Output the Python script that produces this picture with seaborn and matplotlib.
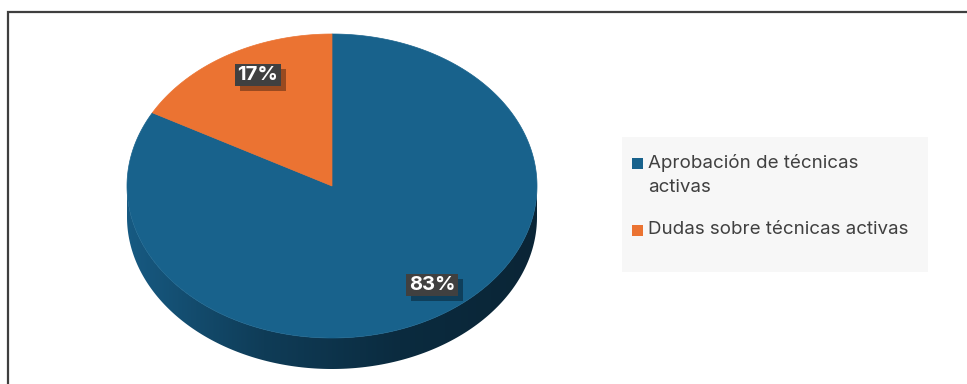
import numpy as np
import matplotlib
matplotlib.use("Agg")
import matplotlib.pyplot as plt
from matplotlib.patches import Polygon, Rectangle
from matplotlib.colors import LinearSegmentedColormap
import seaborn as sns

# Survey shares (percent)
categories = ["Aprobación de técnicas activas", "Dudas sobre técnicas activas"]
legend_labels = ["Aprobación de técnicas\nactivas", "Dudas sobre técnicas activas"]
values = [83, 17]
value_labels = ["83%", "17%"]

sns.set_theme(style="white")
plt.rcParams["font.family"] = ["Inter", "DejaVu Sans"]

top_colors = ["#18628c", "#eb7332"]
text_color = "#404040"

W, H = 967, 384
fig = plt.figure(figsize=(W / 100, H / 100), dpi=100)
ax = fig.add_axes([0, 0, 1, 1])
ax.set_xlim(0, W)
ax.set_ylim(H, 0)
ax.axis("off")

# outer frame (left and top edges visible)
ax.plot([8, 8, W + 5], [H + 5, 12, 12], color="#3f3f3f", lw=1.6,
        solid_joinstyle="miter")

# pie geometry in pixel units
cx, cy, rx, ry, depth = 332, 186, 205, 152, 31


def rim(theta_deg, dy=0.0):
    t = np.radians(theta_deg)
    return np.column_stack([cx + rx * np.cos(t), cy - ry * np.sin(t) + dy])


# side wall along the front half of the disk
front = np.linspace(180, 360, 200)
side_pts = np.vstack([rim(front), rim(front[::-1], depth)])
side = Polygon(side_pts, closed=True, facecolor="none", edgecolor="none")
ax.add_patch(side)
side_cmap = LinearSegmentedColormap.from_list(
    "side", ["#175a82", "#0f3c57", "#0b2b3f", "#0a2536"])
grad = np.tile(np.linspace(0, 1, 256), (32, 1))
im = ax.imshow(grad, cmap=side_cmap, aspect="auto",
               extent=[cx - rx, cx + rx, cy + ry + depth + 2, cy - 2],
               interpolation="bilinear", zorder=1)
im.set_clip_path(side)

# top faces: slices run clockwise from 12 o'clock
total = float(sum(values))
start = 90.0
for val, col in zip(values, top_colors):
    sweep = 360.0 * val / total
    angs = np.linspace(start, start - sweep, max(int(sweep * 2), 4))
    pts = np.vstack([[cx, cy], rim(angs)])
    ax.add_patch(Polygon(pts, closed=True, facecolor=col, edgecolor=col,
                         lw=0.5, zorder=2))
    start -= sweep

# value labels on a dark box with a soft drop shadow
label_pos = [(432, 285), (258, 75)]
label_texts = []
for (lx, ly), txt in zip(label_pos, value_labels):
    t = ax.text(lx, ly, txt, ha="center", va="center", fontsize=14.5,
                fontweight="bold", color="white", zorder=4,
                bbox=dict(boxstyle="square,pad=0.12", facecolor="#404040",
                          edgecolor="none"))
    label_texts.append(t)

fig.canvas.draw()
renderer = fig.canvas.get_renderer()
for t in label_texts:
    bb = t.get_bbox_patch().get_window_extent(renderer)
    x0, x1 = bb.x0, bb.x1
    y_top, y_bot = H - bb.y1, H - bb.y0
    ax.add_patch(Rectangle((x0 + 5, y_top + 5), x1 - x0, y_bot - y_top,
                           facecolor="black", alpha=0.35, edgecolor="none",
                           zorder=3))

# legend panel
ax.add_patch(Rectangle((622, 137), 306, 135, facecolor="#f7f7f7",
                       edgecolor="none", zorder=1))
legend_y = [163, 230]
for y, col, lab in zip(legend_y, top_colors, legend_labels):
    ax.add_patch(Rectangle((632, y - 5.5), 11, 11, facecolor=col,
                           edgecolor="none", zorder=2))
    ax.text(648, y - 9, lab, ha="left", va="top", fontsize=13.5,
            color=text_color, linespacing=1.55, zorder=3)

fig.savefig("out.png", dpi=100)
